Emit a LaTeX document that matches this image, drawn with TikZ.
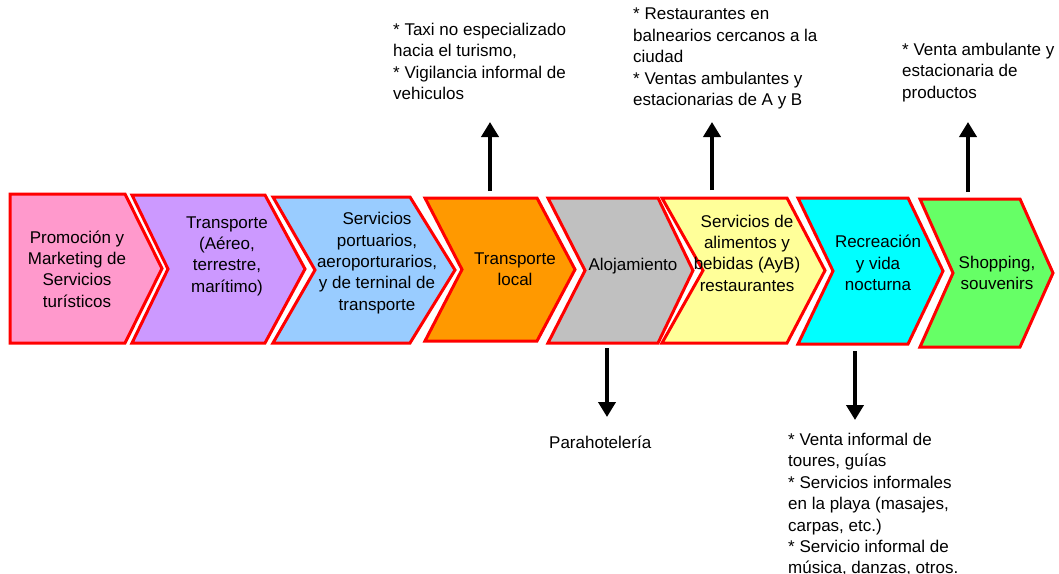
\documentclass[tikz,border=0pt]{standalone}
\usepackage{fontspec}
\setmainfont{Liberation Sans}
\usetikzlibrary{positioning}
\usetikzlibrary{arrows.meta}
\pgfdeclarelayer{background}
\pgfsetlayers{background,main}

\definecolor{promocolor}{HTML}{FF99CC}
\definecolor{transcolor}{HTML}{CC99FF}
\definecolor{portcolor}{HTML}{99CCFF}
\definecolor{localcolor}{HTML}{FF9900}
\definecolor{alojacolor}{HTML}{C0C0C0}
\definecolor{foodcolor}{HTML}{FFFF99}
\definecolor{recrecolor}{HTML}{00FFFF}
\definecolor{shopcolor}{HTML}{66FF66}

\begin{document}
\begin{tikzpicture}[x=1pt,y=-1pt,
					chevron/.style={draw=red, line width=3pt, line join=miter},
					steptext/.style={align=center, inner sep=0pt, font=\fontsize{17}{21.3}\selectfont},
					notetext/.style={align=left, anchor=north west, inner sep=0pt, font=\fontsize{17}{21.4}\selectfont},
					bigarrow/.style={line width=4pt, -{Triangle[width=17pt,length=15pt]}},
					]
					\useasboundingbox (0,0) rectangle (1059,573);
					
					\begin{pgfonlayer}{background}
					%Chevrons
					\draw[chevron, fill=promocolor] (10,194) -- (125,194) -- (162,268.5) -- (125,343) -- (10,343) -- cycle;
					\draw[chevron, fill=transcolor] (132,195) -- (265,195) -- (305,269) -- (265,343) -- (132,343) -- (168,269) -- cycle;
					\draw[chevron, fill=portcolor]  (273,197) -- (410,197) -- (455,270) -- (410,343) -- (273,343) -- (315,270) -- cycle;
					\draw[chevron, fill=localcolor] (425,198) -- (537,198) -- (575,269.5) -- (537,341) -- (425,341) -- (462,269.5) -- cycle;
					\draw[chevron, fill=alojacolor] (548,198) -- (658,198) -- (693,270.5) -- (658,343) -- (548,343) -- (585,270.5) -- cycle;
					\draw[chevron, fill=foodcolor]  (662,198) -- (787,198) -- (825,270.5) -- (787,343) -- (662,343) -- (703,270.5) -- cycle;
					\draw[chevron, fill=recrecolor] (798,198) -- (908,198) -- (943,271) -- (908,344) -- (798,344) -- (833,271) -- cycle;
					\draw[chevron, fill=shopcolor]  (920,199) -- (1020,199) -- (1053,273) -- (1020,347) -- (920,347) -- (953,273) -- cycle;
					\end{pgfonlayer}
					
					%Nodes
					\node[steptext] (promo)  at (77,269)  {Promoción y\\Marketing de\\Servicios\\turísticos};
					\node[steptext] (trans)  at (227,256) {Transporte\\(Aéreo,\\terrestre,\\marítimo)};
					\node[steptext] (port)   at (377,263) {Servicios\\portuarios,\\aeroporturarios,\\y de terninal de\\transporte};
					\node[steptext] (local)  at (515,269) {Transporte\\local};
					\node[steptext] (aloja)  at (633,266) {Alojamiento};
					\node[steptext] (food)   at (747,253) {Servicios de\\alimentos y\\bebidas (AyB)\\restaurantes};
					\node[steptext] (recre)  at (878,263) {Recreación\\y vida\\nocturna};
					\node[steptext] (shop)   at (997,273) {Shopping,\\souvenirs};
					
					%Notes
					\node[notetext] (taxi)   at (393,23)  {* Taxi no especializado\\hacia el turismo,\\* Vigilancia informal de\\vehiculos};
					\node[notetext] (resto)  at (633,8)   {* Restaurantes en\\balnearios cercanos a la\\ciudad\\* Ventas ambulantes y\\estacionarias de A y B};
					\node[notetext] (venta)  at (902,43)  {* Venta ambulante y\\estacionaria de\\productos};
					\node[notetext] (para)   at (549,436) {Parahotelería};
					\node[notetext] (playa)  at (788,433) {* Venta informal de\\toures, guías\\* Servicios informales\\en la playa (masajes,\\carpas, etc.)\\* Servicio informal de\\música, danzas, otros.};
					
					%Arrows
					\coordinate (localtop)  at (490,191);
					\coordinate (taxiend)   at (490,122);
					\coordinate (foodtop)   at (712,190);
					\coordinate (restoend)  at (712,122);
					\coordinate (shoptop)   at (968,192);
					\coordinate (ventaend)  at (968,122);
					\coordinate (alojabot)  at (607,348);
					\coordinate (paraend)   at (607,417);
					\coordinate (recrebot)  at (855,351);
					\coordinate (playaend)  at (855,420);
					\draw[bigarrow] (localtop) -- (taxiend);
					\draw[bigarrow] (foodtop) -- (restoend);
					\draw[bigarrow] (shoptop) -- (ventaend);
					\draw[bigarrow] (alojabot) -- (paraend);
					\draw[bigarrow] (recrebot) -- (playaend);
				\end{tikzpicture}
\end{document}
